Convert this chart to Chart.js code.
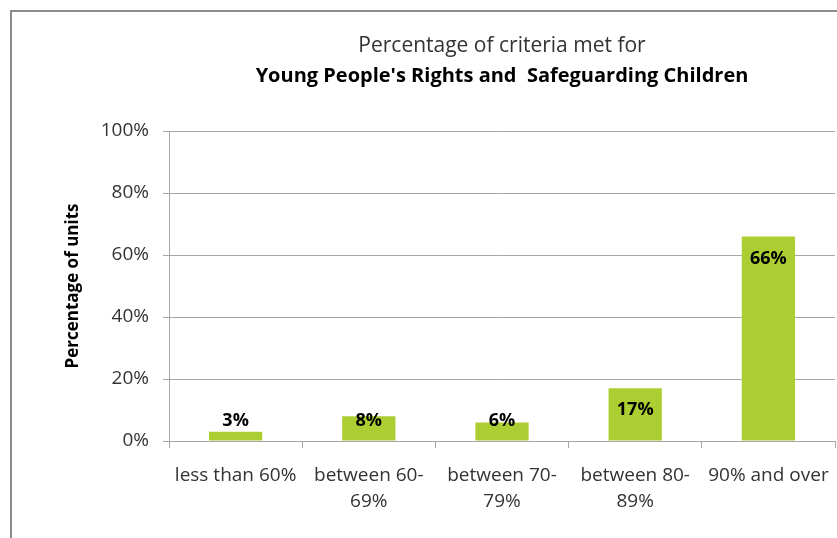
<!DOCTYPE html>
<html>
<head>
<meta charset="utf-8">
<script src="https://cdn.jsdelivr.net/npm/chart.js@4"></script>
<style>
  html, body { margin: 0; padding: 0; background: #fff; }
  #wrap { width: 837px; height: 538px; position: relative; }
</style>
</head>
<body>
<div id="wrap"><canvas id="chart" width="837" height="538"></canvas></div>
<script>
// Share of units by percentage of criteria met
const categories = [
  ['less than 60%'],
  ['between 60-', '69%'],
  ['between 70-', '79%'],
  ['between 80-', '89%'],
  ['90% and over']
];
const unitShares = [3, 8, 6, 17, 66];
const yTicks = [0, 20, 40, 60, 80, 100];

const FONT = "'Open Sans', sans-serif";
const BAR_COLOR = '#acce32';
const GRID_COLOR = '#a6a6a6';

// outer frame + two-line title centred on the plot area
const framePlugin = {
  id: 'frame',
  beforeDraw(chart) {
    const ctx = chart.ctx;
    ctx.save();
    ctx.fillStyle = '#fff';
    ctx.fillRect(0, 0, chart.width, chart.height);
    ctx.strokeStyle = '#8c8c8c';
    ctx.lineWidth = 2;
    ctx.beginPath();
    ctx.moveTo(11, chart.height);
    ctx.lineTo(11, 11);
    ctx.lineTo(chart.width, 11);
    ctx.stroke();
    ctx.restore();
  },
  afterDraw(chart) {
    const ctx = chart.ctx;
    const cx = (chart.chartArea.left + chart.chartArea.right) / 2;
    ctx.save();
    ctx.textAlign = 'center';
    ctx.textBaseline = 'alphabetic';
    ctx.fillStyle = '#333';
    ctx.font = '21px ' + FONT;
    ctx.fillText('Percentage of criteria met for', cx, 52);
    ctx.fillStyle = '#000';
    ctx.font = 'bold 20px ' + FONT;
    ctx.fillText("Young People's Rights and  Safeguarding Children", cx, 82);
    ctx.restore();
  }
};

// value labels at the inside end of each bar, kept above the baseline
const valueLabels = {
  id: 'valueLabels',
  afterDatasetsDraw(chart) {
    const ctx = chart.ctx;
    const meta = chart.getDatasetMeta(0);
    const base = chart.scales.y.getPixelForValue(0);
    ctx.save();
    ctx.font = 'bold 18px ' + FONT;
    ctx.fillStyle = '#000';
    ctx.textAlign = 'center';
    ctx.textBaseline = 'middle';
    meta.data.forEach((bar, i) => {
      const y = Math.min(bar.y + 22, base - 20);
      ctx.fillText(unitShares[i] + '%', bar.x, y);
    });
    ctx.restore();
  }
};

new Chart(document.getElementById('chart'), {
  type: 'bar',
  data: {
    labels: categories,
    datasets: [{
      data: unitShares,
      backgroundColor: BAR_COLOR,
      borderWidth: 0,
      barPercentage: 0.4,
      categoryPercentage: 1
    }]
  },
  options: {
    responsive: false,
    animation: false,
    layout: { padding: { top: 131, right: 2, bottom: 0, left: 0 } },
    plugins: {
      legend: { display: false },
      tooltip: { enabled: false },
      title: { display: false }
    },
    scales: {
      x: {
        afterFit(scale) {
          scale.height = 97;
          // let the last label run to the canvas edge
          scale.paddingLeft = 0;
          scale.paddingRight = 0;
        },
        grid: {
          display: true,
          drawOnChartArea: false,
          drawTicks: true,
          tickLength: 7,
          color: GRID_COLOR,
          offset: true
        },
        border: { color: GRID_COLOR },
        ticks: {
          color: '#333',
          font: { family: FONT, size: 19, lineHeight: 1.35 },
          maxRotation: 0,
          autoSkip: false,
          padding: 15
        }
      },
      y: {
        min: 0,
        max: 100,
        afterFit(scale) { scale.width = 169; },
        afterBuildTicks(scale) {
          scale.ticks = yTicks.map(v => ({ value: v }));
        },
        grid: { color: GRID_COLOR, tickLength: 6 },
        border: { color: GRID_COLOR },
        ticks: {
          color: '#333',
          font: { family: FONT, size: 19 },
          padding: 14,
          callback: v => v + '%'
        },
        title: {
          display: true,
          text: 'Percentage of units',
          color: '#000',
          font: { family: FONT, size: 17, weight: 'bold' },
          padding: { top: 63, bottom: 0 }
        }
      }
    }
  },
  plugins: [framePlugin, valueLabels]
});
</script>
</body>
</html>
